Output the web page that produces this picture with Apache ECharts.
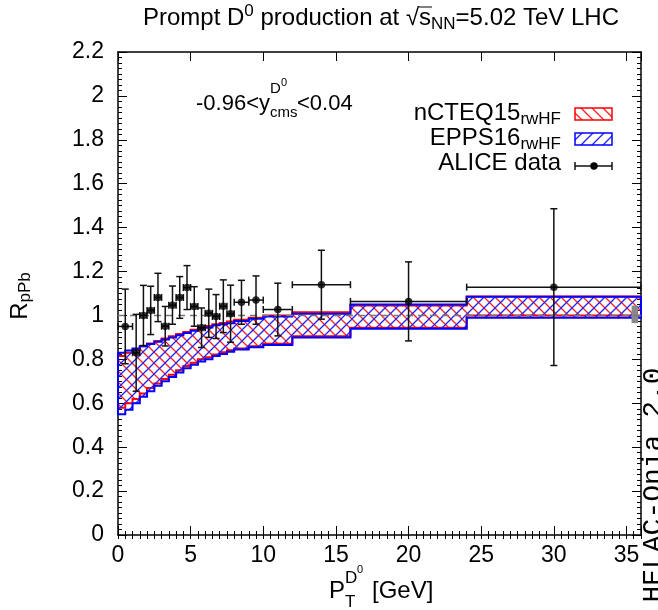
<!DOCTYPE html>
<html><head><meta charset="utf-8">
<script src="https://cdn.jsdelivr.net/npm/echarts@6/dist/echarts.min.js"></script>
<style>html,body{margin:0;padding:0;background:#fff}#c{width:658px;height:610px}</style>
</head><body><div id="c"></div>
<script>
// ---- data ----
const ptCenter = [0.5,1.25,1.75,2.25,2.75,3.25,3.75,4.25,4.75,5.25,5.75,6.25,6.75,7.25,7.75,8.5,9.5,11,14,20,30];
const ptLow    = [0,1,1.5,2,2.5,3,3.5,4,4.5,5,5.5,6,6.5,7,7.5,8,9,10,12,16,24];
const ptHigh   = [1,1.5,2,2.5,3,3.5,4,4.5,5,5.5,6,6.5,7,7.5,8,9,10,12,16,24,36];
const rpPb     = [0.95,0.83,1.0,1.023,1.082,0.951,1.047,1.082,1.127,1.041,0.944,1.01,0.995,1.042,1.008,1.06,1.07,1.027,1.14,1.064,1.129];
const rpPbErr  = [0.17,0.175,0.137,0.11,0.11,0.09,0.087,0.095,0.1,0.09,0.09,0.11,0.1,0.12,0.13,0.1,0.11,0.12,0.157,0.18,0.357];

const bandEdges = [0,0.5,1,1.5,2,2.5,3,3.5,4,4.5,5,5.5,6,6.5,7,7.5,8,9,10,12,16,24,36];
const eppsLow   = [0.55,0.57,0.60,0.63,0.655,0.68,0.70,0.72,0.74,0.76,0.775,0.79,0.80,0.815,0.825,0.835,0.845,0.855,0.865,0.90,0.94,0.99];
const eppsHigh  = [0.83,0.84,0.85,0.86,0.87,0.88,0.89,0.90,0.91,0.92,0.93,0.94,0.945,0.955,0.96,0.965,0.975,0.985,0.995,1.008,1.05,1.085];
const ncteqLow  = [0.58,0.60,0.62,0.645,0.67,0.69,0.71,0.73,0.75,0.77,0.785,0.80,0.81,0.822,0.832,0.842,0.85,0.86,0.871,0.905,0.944,1.0];
const ncteqHigh = [0.815,0.83,0.845,0.86,0.872,0.884,0.895,0.905,0.915,0.925,0.935,0.945,0.952,0.96,0.966,0.972,0.98,0.99,1.0,1.015,1.045,1.086];

const normBox = [35.35, 35.8, 0.965, 1.045];
const refLine = [[0,1],[36,1]];

const xTickStep = 5, xMinorStep = 0.5, yTickStep = 0.2;

// ---- helpers ----
function hatch(color, dir){
  const s = 11, c = document.createElement('canvas');
  c.width = s; c.height = s;
  const g = c.getContext('2d');
  g.strokeStyle = color; g.lineWidth = 1.3; g.beginPath();
  if (dir === '/') {
    g.moveTo(0,s); g.lineTo(s,0); g.moveTo(-2,2); g.lineTo(2,-2); g.moveTo(s-2,s+2); g.lineTo(s+2,s-2);
  } else {
    g.moveTo(0,0); g.lineTo(s,s); g.moveTo(s-2,-2); g.lineTo(s+2,2); g.moveTo(-2,s-2); g.lineTo(2,s+2);
  }
  g.stroke();
  return c;
}
const redPat = hatch('#ff2020','\\');
const bluePat = hatch('#2020ff','/');

function bandSeries(name, lo, hi, color, pat, z){
  return {
    type:'custom', name, z, xAxisIndex:0, yAxisIndex:0, clip:false,
    data: lo.map((v,i)=>[bandEdges[i], bandEdges[i+1], v, hi[i]]),
    renderItem(params, api){
      if (params.dataIndex !== 0) return null;
      const n = lo.length, top = [], bot = [];
      for (let i=0;i<n;i++){
        const x0=api.value(0,i), x1=api.value(1,i), l=api.value(2,i), h=api.value(3,i);
        top.push(api.coord([x0,h]), api.coord([x1,h]));
        bot.push(api.coord([x0,l]), api.coord([x1,l]));
      }
      const pts = top.concat(bot.reverse());
      return {type:'polygon', shape:{points:pts},
        style:{fill:{image:pat, repeat:'repeat'}, stroke:color, lineWidth:2}};
    }
  };
}

const T = 'Liberation Sans';
const FS = 24, SS = 17;
function txt(x,y,text,size,opts){
  return {type:'text', x, y, style:Object.assign({text, fontFamily:T, fontSize:size, fill:'#000', verticalAlign:'middle', align:'left'}, opts||{})};
}
function richTxt(x,y,text,align,main,sub){
  return {type:'text', x, y, style:{text, align, verticalAlign:'middle',
    rich:{m:{fontFamily:T, fontSize:main, lineHeight:main+6, verticalAlign:'middle', fill:'#000'},
          sp:{fontFamily:T, fontSize:sub, lineHeight:sub, verticalAlign:'top', fill:'#000'},
          sb:{fontFamily:T, fontSize:sub, lineHeight:sub, verticalAlign:'bottom', fill:'#000'}}}};
}

const chart = echarts.init(document.getElementById('c'), null, {renderer:'canvas'});

const axisCommon = {
  min:0, max:36, axisLine:{show:true, onZero:false, lineStyle:{color:'#000', width:1.5}},
  splitLine:{show:false}
};
const yCommon = {
  min:0, max:2.2, interval:yTickStep, axisLine:{show:true, onZero:false, lineStyle:{color:'#000', width:1.5}},
  splitLine:{show:false},
  axisTick:{show:true, inside:true, length:9, lineStyle:{color:'#000', width:1}},
  minorTick:{show:true, splitNumber:8, length:4, lineStyle:{color:'#000', width:1}},
  minorSplitLine:{show:false}
};

chart.setOption({
  animation:false,
  grid:{left:118, right:17, top:52, bottom:75, containLabel:false},
  xAxis:[
    Object.assign({}, axisCommon, {type:'value', position:'bottom', interval:xTickStep,
      axisTick:{show:true, inside:true, length:9, lineStyle:{color:'#000'}},
      axisLabel:{show:true, margin:9, color:'#000', fontFamily:T, fontSize:23,
        formatter:v=> (v % 5 === 0 ? String(v) : '')}}),
    Object.assign({}, axisCommon, {type:'value', position:'top', interval:xTickStep,
      axisTick:{show:true, inside:true, length:9, lineStyle:{color:'#000'}}, axisLabel:{show:false}}),
    Object.assign({}, axisCommon, {type:'value', position:'bottom', interval:xMinorStep, axisLine:{show:false},
      axisTick:{show:true, inside:true, length:4, lineStyle:{color:'#000'}}, axisLabel:{show:false}}),
    Object.assign({}, axisCommon, {type:'value', position:'top', interval:xMinorStep, axisLine:{show:false},
      axisTick:{show:true, inside:true, length:4, lineStyle:{color:'#000'}}, axisLabel:{show:false}})
  ],
  yAxis:[
    Object.assign({}, yCommon, {type:'value', position:'left',
      axisLabel:{show:true, margin:14, color:'#000', fontFamily:T, fontSize:23}}),
    Object.assign({}, yCommon, {type:'value', position:'right', axisLabel:{show:false}})
  ],
  series:[
    bandSeries('nCTEQ15', ncteqLow, ncteqHigh, '#ff0000', redPat, 2),
    bandSeries('EPPS16', eppsLow, eppsHigh, '#0000ff', bluePat, 3),
    {type:'line', data:refLine, symbol:'none', z:4, silent:true,
      lineStyle:{color:'#777', width:1.5, type:[7,5]}},
    {type:'custom', z:4, clip:false, data:[normBox],
      renderItem(params, api){
        const a=api.coord([api.value(0), api.value(3)]), b=api.coord([api.value(1), api.value(2)]);
        return {type:'rect', shape:{x:a[0], y:a[1], width:b[0]-a[0], height:b[1]-a[1]}, style:{fill:'#888'}};
      }},
    {type:'custom', z:5, clip:false,
      data: ptCenter.map((x,i)=>[x, rpPb[i], ptLow[i], ptHigh[i], rpPbErr[i]]),
      renderItem(params, api){
        const x=api.value(0), y=api.value(1), xl=api.value(2), xh=api.value(3), e=api.value(4);
        const t=api.coord([x,y+e]), b=api.coord([x,y-e]), l=api.coord([xl,y]), r=api.coord([xh,y]);
        const cap=3.5, st={stroke:'#111', lineWidth:1.5};
        const L=(x1,y1,x2,y2)=>({type:'line', shape:{x1,y1,x2,y2}, style:st});
        return {type:'group', children:[
          L(t[0],t[1],b[0],b[1]), L(t[0]-cap,t[1],t[0]+cap,t[1]), L(b[0]-cap,b[1],b[0]+cap,b[1]),
          L(l[0],l[1],r[0],r[1]), L(l[0],l[1]-cap,l[0],l[1]+cap), L(r[0],r[1]-cap,r[0],r[1]+cap)
        ]};
      }},
    {type:'scatter', z:6, symbol:'circle', symbolSize:7.5, itemStyle:{color:'#000'},
      data: ptCenter.map((x,i)=>[x, rpPb[i]])}
  ],
  graphic:[
    // title
    richTxt(381, 18, '{m|Prompt D}{sp|0}{m| production at √s}{sb|NN}{m|=5.02 TeV LHC}', 'center', FS, SS),
    {type:'line', shape:{x1:419, y1:7, x2:432, y2:7}, style:{stroke:'#000', lineWidth:1}},
    // y axis name
    {type:'text', x:20, y:296, rotation:Math.PI/2, style:{text:'{m|R}{sb|pPb}', align:'center', verticalAlign:'middle',
      rich:{m:{fontFamily:T, fontSize:FS, lineHeight:28, verticalAlign:'middle', fill:'#000'},
            sb:{fontFamily:T, fontSize:SS, lineHeight:16, verticalAlign:'bottom', fill:'#000'}}}},
    // x axis name
    txt(329, 591, 'P', FS),
    txt(345, 602, 'T', SS),
    txt(345, 578, 'D', SS),
    txt(357, 570, '0', 11),
    txt(372, 591, '[GeV]', FS),
    // annotation
    txt(196, 104, '-0.96<y', 22),
    txt(270, 89, 'D', 15),
    txt(281, 83, '0', 11),
    txt(270, 113, 'cms', 15),
    txt(297, 104, '<0.04', 22),
    // legend
    richTxt(561, 113, '{m|nCTEQ15}{sb|rwHF}', 'right', FS, SS),
    {type:'rect', shape:{x:575, y:108, width:37, height:12}, style:{fill:{image:redPat, repeat:'repeat'}, stroke:'#ff0000', lineWidth:1.5}},
    richTxt(561, 138, '{m|EPPS16}{sb|rwHF}', 'right', FS, SS),
    {type:'rect', shape:{x:575, y:133, width:37, height:12}, style:{fill:{image:bluePat, repeat:'repeat'}, stroke:'#0000ff', lineWidth:1.5}},
    txt(561, 163, 'ALICE data', FS, {align:'right'}),
    {type:'line', shape:{x1:575, y1:166, x2:612, y2:166}, style:{stroke:'#111', lineWidth:1.5}},
    {type:'line', shape:{x1:575, y1:162, x2:575, y2:170}, style:{stroke:'#111', lineWidth:1.5}},
    {type:'line', shape:{x1:612, y1:162, x2:612, y2:170}, style:{stroke:'#111', lineWidth:1.5}},
    {type:'circle', shape:{cx:594, cy:166, r:3.7}, style:{fill:'#000'}},
    // side label
    {type:'text', x:668, y:485, rotation:Math.PI/2, style:{text:'HELAC-Onia 2.0', fontFamily:'Liberation Mono', fontSize:28,
      align:'center', verticalAlign:'bottom', fill:'#000'}}
  ]
});
</script></body></html>
